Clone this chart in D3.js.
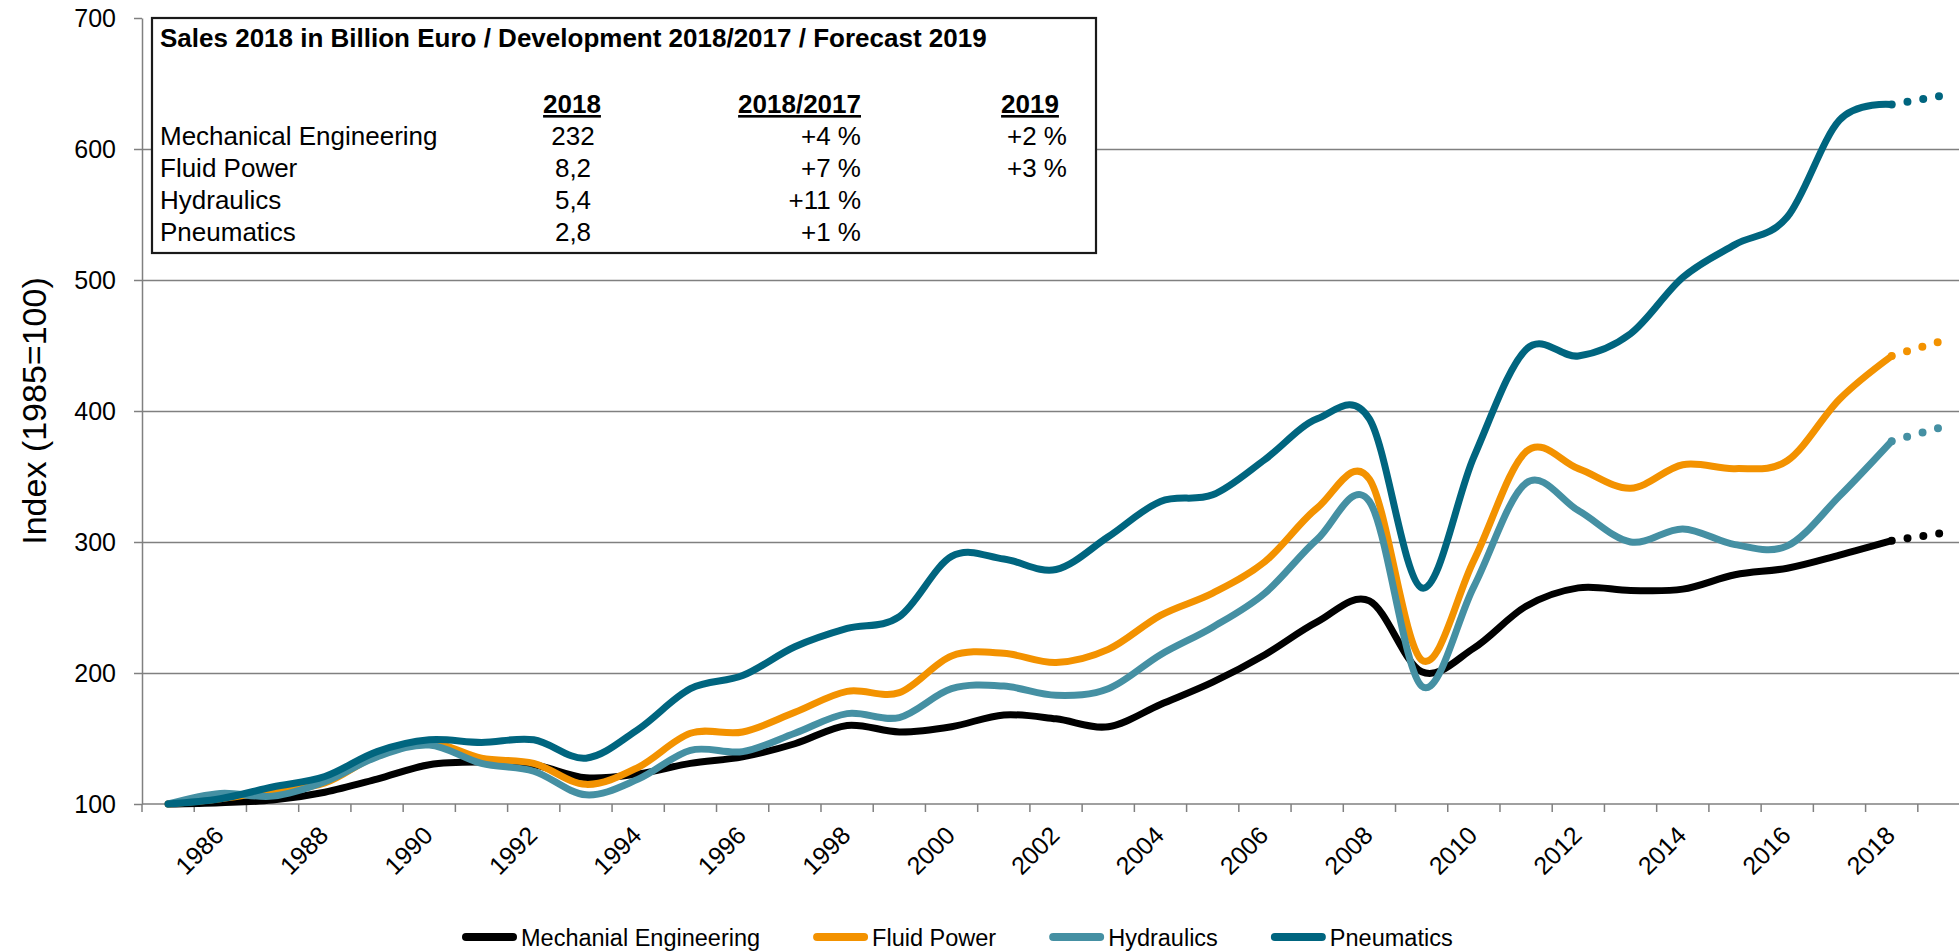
<!DOCTYPE html>
<html>
<head>
<meta charset="utf-8">
<script src="https://cdn.jsdelivr.net/npm/d3@7"></script>
<style>
body { margin: 0; background: #fff; }
svg { display: block; font-family: "Liberation Sans", Arial, sans-serif; }
</style>
</head>
<body>
<div id="chart"></div>
<script>
//chart data
const years = [1985, 1986, 1987, 1988, 1989, 1990, 1991, 1992, 1993, 1994, 1995, 1996,
    1997, 1998, 1999, 2000, 2001, 2002, 2003, 2004, 2005, 2006, 2007, 2008,
    2009, 2010, 2011, 2012, 2013, 2014, 2015, 2016, 2017, 2018, 2019];
const yearLabels = [1986, 1988, 1990, 1992, 1994, 1996, 1998, 2000, 2002, 2004,
    2006, 2008, 2010, 2012, 2014, 2016, 2018];
const yTicks = [100, 200, 300, 400, 500, 600, 700];
const gridTicks = [200, 300, 400, 500, 600];

const seriesNames = ["Mechanial Engineering", "Fluid Power", "Hydraulics", "Pneumatics"];
const seriesColors = ["#000000", "#f39200", "#4590a3", "#00657f"];

const mechanical = [100, 101, 103, 109, 119, 130, 132, 130, 120, 123, 131, 136,
    146, 160, 155, 159, 168, 165, 159, 176, 193, 214, 239, 255,
    201, 219, 251, 265, 263, 264, 275, 280, 290, 301, 307];
const fluidPower = [100, 104, 110, 116, 137, 147, 135, 131, 115, 128, 154, 155,
    170, 186, 185, 213, 215, 208, 218, 244, 261, 285, 326, 348,
    210, 286, 369, 356, 341, 359, 356, 362, 409, 442, 454];
const hydraulics = [100, 108, 106, 117, 136, 145, 131, 125, 107, 119, 141, 140,
    154, 169, 166, 188, 190, 183, 188, 214, 235, 261, 302, 331,
    190, 266, 345, 324, 300, 310, 298, 297, 335, 377, 388];
const pneumatics = [100, 104, 113, 121, 140, 149, 147, 149, 135, 157, 188, 198,
    220, 234, 243, 289, 287, 279, 304, 331, 336, 363, 394, 394,
    265, 365, 447, 442, 459, 502, 527, 548, 622, 634, 641];
const seriesValues = [mechanical, fluidPower, hydraulics, pneumatics];
const forecastYear = 2019;

//info box texts
const boxTitle = "Sales 2018 in Billion Euro / Development 2018/2017 / Forecast 2019";
const boxHeaders = ["2018", "2018/2017", "2019"];
const boxRows = ["Mechanical Engineering", "Fluid Power", "Hydraulics", "Pneumatics"];
const sales2018 = ["232", "8,2", "5,4", "2,8"];
const development = ["+4 %", "+7 %", "+11 %", "+1 %"];
const forecast = ["+2 %", "+3 %", "", ""];

//svg dimensions
const width = 1959;
const height = 951;
const left = 142;
const step = 52.23;

const svg = d3.select("#chart")
    .append("svg")
    .attr("width", width)
    .attr("height", height);

//scales
const xScale = d3.scaleBand()
    .domain(years)
    .range([left, left + step * years.length])
    .padding(0);
const yScale = d3.scaleLinear()
    .domain([100, 700])
    .range([804, 18]);
const xc = d => xScale(d) + xScale.bandwidth() / 2;

//gridlines
const grid = svg.append("g")
    .attr("transform", "translate(" + left + ",0)")
    .call(d3.axisLeft(yScale).tickValues(gridTicks)
        .tickSize(-(xScale.range()[1] - left)).tickFormat(""));
grid.select(".domain").remove();
grid.selectAll("line").attr("stroke", "#808080").attr("stroke-width", 1.4);

//y axis
const yAxis = svg.append("g")
    .attr("transform", "translate(" + left + ",0)")
    .call(d3.axisLeft(yScale).tickValues(yTicks).tickSize(8).tickSizeOuter(0).tickPadding(18));
yAxis.select(".domain").attr("stroke", "#808080").attr("stroke-width", 1.5);
yAxis.selectAll("line").attr("stroke", "#808080").attr("stroke-width", 1.5);
yAxis.selectAll("text")
    .attr("font-size", 25)
    .attr("font-family", "'Liberation Sans', Arial, sans-serif")
    .attr("fill", "#000");

svg.append("text")
    .attr("transform", "translate(46," + ((yScale(100) + yScale(700)) / 2) + ") rotate(-90)")
    .attr("text-anchor", "middle")
    .attr("font-size", 34)
    .text("Index (1985=100)");

//x axis
const xAxis = svg.append("g").attr("transform", "translate(0," + yScale(100) + ")");
xAxis.append("line")
    .attr("x1", left).attr("x2", xScale.range()[1])
    .attr("stroke", "#808080").attr("stroke-width", 1.5);
xAxis.selectAll(".tick-b")
    .data(years.concat(["end"]))
    .enter()
    .append("line")
    .attr("class", "tick-b")
    .attr("x1", d => d === "end" ? xScale.range()[1] : xScale(d))
    .attr("x2", d => d === "end" ? xScale.range()[1] : xScale(d))
    .attr("y1", 0).attr("y2", 8)
    .attr("stroke", "#808080").attr("stroke-width", 1.5);
xAxis.selectAll(".xlabel")
    .data(yearLabels)
    .enter()
    .append("text")
    .attr("class", "xlabel")
    .attr("transform", d => "translate(" + (xc(d) + 5) + ",33) rotate(-45)")
    .attr("text-anchor", "end")
    .attr("font-size", 25)
    .text(d => d);

//lines
const line = d3.line()
    .x(d => xc(d.year))
    .y(d => yScale(d.value))
    .curve(d3.curveCatmullRom.alpha(0));

seriesValues.forEach((vals, i) => {
    const pts = years.map((yr, j) => ({ year: yr, value: vals[j] }));
    const solid = pts.filter(p => p.year < forecastYear);
    const dotted = pts.filter(p => p.year >= forecastYear - 1);
    svg.append("path")
        .datum(solid)
        .attr("d", line)
        .attr("fill", "none")
        .attr("stroke", seriesColors[i])
        .attr("stroke-width", 7)
        .attr("stroke-linecap", "round")
        .attr("stroke-linejoin", "round");
    svg.append("path")
        .datum(dotted)
        .attr("d", d3.line().x(d => xc(d.year)).y(d => yScale(d.value)))
        .attr("fill", "none")
        .attr("stroke", seriesColors[i])
        .attr("stroke-width", 8)
        .attr("stroke-linecap", "round")
        .attr("stroke-dasharray", "0 16");
});

//info box
const box = svg.append("g");
box.append("rect")
    .attr("x", 152).attr("y", 18)
    .attr("width", 944).attr("height", 235)
    .attr("fill", "#fff")
    .attr("stroke", "#1a1a1a")
    .attr("stroke-width", 2.2);
box.append("text")
    .attr("x", 160).attr("y", 47)
    .attr("font-size", 26)
    .attr("font-weight", "bold")
    .text(boxTitle);
const headerX = [572, 861, 1030];
const headerAnchor = ["middle", "end", "middle"];
boxHeaders.forEach((h, i) => {
    box.append("text")
        .attr("x", headerX[i]).attr("y", 113)
        .attr("text-anchor", headerAnchor[i])
        .attr("font-size", 26)
        .attr("font-weight", "bold")
        .attr("text-decoration", "underline")
        .text(h);
});
boxRows.forEach((r, i) => {
    const yy = 145 + i * 32;
    box.append("text").attr("x", 160).attr("y", yy).attr("font-size", 26).text(r);
    box.append("text").attr("x", 573).attr("y", yy).attr("font-size", 26)
        .attr("text-anchor", "middle").text(sales2018[i]);
    box.append("text").attr("x", 861).attr("y", yy).attr("font-size", 26)
        .attr("text-anchor", "end").text(development[i]);
    box.append("text").attr("x", 1067).attr("y", yy).attr("font-size", 26)
        .attr("text-anchor", "end").text(forecast[i]);
});

//legend
const legend = svg.append("g").attr("transform", "translate(0,937)");
let lx = 466;
seriesNames.forEach((name, i) => {
    legend.append("line")
        .attr("x1", lx).attr("x2", lx + 47)
        .attr("stroke", seriesColors[i])
        .attr("stroke-width", 8)
        .attr("stroke-linecap", "round");
    const t = legend.append("text")
        .attr("x", lx + 55)
        .attr("y", 8.5)
        .attr("font-size", 23.5)
        .text(name);
    lx += 55 + t.node().getComputedTextLength() + 57;
});
</script>
</body>
</html>
